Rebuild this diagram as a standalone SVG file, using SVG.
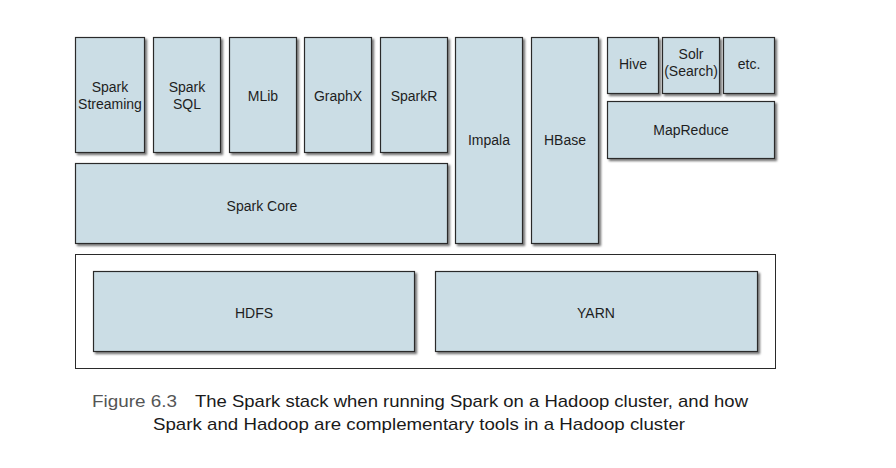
<svg xmlns="http://www.w3.org/2000/svg" width="896" height="468" viewBox="0 0 896 468">
<defs>
<filter id="sh" x="-10%" y="-10%" width="130%" height="130%">
<feDropShadow dx="2" dy="2" stdDeviation="1" flood-color="#000" flood-opacity="0.55"/>
</filter>
</defs>
<style>
.box{fill:#cbdde5;stroke:#2a2a2a;stroke-width:1.2;filter:url(#sh)}
.lbl{font-family:"Liberation Sans",Arial,sans-serif;font-size:14px;fill:#1e1e1e;text-anchor:middle}
.cap{font-family:"Liberation Sans Narrow","Liberation Sans",Arial,sans-serif;font-size:17px;fill:#1a1a1a}
.fig{fill:#555}
</style>
<rect width="896" height="468" fill="#fff"/>
<g id="cluster"><rect x="75.5" y="254.5" width="700" height="114" fill="none" stroke="#2a2a2a" stroke-width="1"/></g>
<g id="spark-streaming"><rect class="box" x="75.5" y="37.5" width="69" height="115"/><text class="lbl" x="110" y="92">Spark</text><text class="lbl" x="110" y="109">Streaming</text></g>
<g id="spark-sql"><rect class="box" x="153.5" y="37.5" width="67" height="115"/><text class="lbl" x="187" y="92">Spark</text><text class="lbl" x="187" y="109">SQL</text></g>
<g id="mlib"><rect class="box" x="229.5" y="37.5" width="67" height="115"/><text class="lbl" x="263" y="101">MLib</text></g>
<g id="graphx"><rect class="box" x="304.5" y="37.5" width="67" height="115"/><text class="lbl" x="338" y="101">GraphX</text></g>
<g id="sparkr"><rect class="box" x="380.5" y="37.5" width="67" height="115"/><text class="lbl" x="414" y="101">SparkR</text></g>
<g id="spark-core"><rect class="box" x="75.5" y="163.5" width="372" height="80"/><text class="lbl" x="262" y="211">Spark Core</text></g>
<g id="impala"><rect class="box" x="455.5" y="37.5" width="67" height="206"/><text class="lbl" x="489" y="145">Impala</text></g>
<g id="hbase"><rect class="box" x="531.5" y="37.5" width="67" height="206"/><text class="lbl" x="565" y="145">HBase</text></g>
<g id="hive"><rect class="box" x="607.5" y="37.5" width="51" height="56"/><text class="lbl" x="633" y="69">Hive</text></g>
<g id="solr"><rect class="box" x="662.5" y="37.5" width="57" height="56"/><text class="lbl" x="691" y="59">Solr</text><text class="lbl" x="691" y="76">(Search)</text></g>
<g id="etc"><rect class="box" x="723.5" y="37.5" width="51" height="56"/><text class="lbl" x="749" y="69">etc.</text></g>
<g id="mapreduce"><rect class="box" x="607.5" y="101.5" width="167" height="57"/><text class="lbl" x="691" y="135">MapReduce</text></g>
<g id="hdfs"><rect class="box" x="93.5" y="271.5" width="321" height="80"/><text class="lbl" x="254" y="318" font-size="13">HDFS</text></g>
<g id="yarn"><rect class="box" x="435.5" y="271.5" width="322" height="80"/><text class="lbl" x="596" y="318" font-size="13">YARN</text></g>
<g id="connectors"/>
<g id="caption">
<text class="cap fig" x="92" y="407" textLength="85" lengthAdjust="spacingAndGlyphs">Figure 6.3</text>
<text class="cap" x="195" y="407" textLength="553" lengthAdjust="spacingAndGlyphs">The Spark stack when running Spark on a Hadoop cluster, and how</text>
<text class="cap" x="153" y="430" textLength="532" lengthAdjust="spacingAndGlyphs">Spark and Hadoop are complementary tools in a Hadoop cluster</text>
</g>
</svg>
